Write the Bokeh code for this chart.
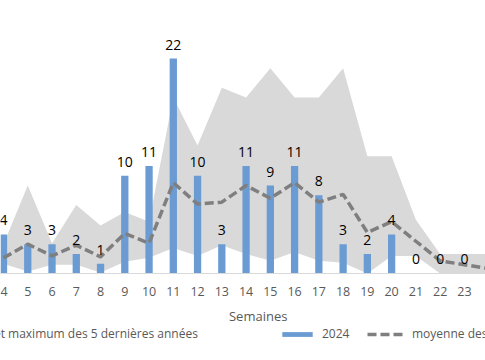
from bokeh.plotting import figure
from bokeh.models import (Range1d, FixedTicker, Legend, LegendItem, Label,
                          LabelSet, ColumnDataSource)
from bokeh.core.properties import value
from bokeh.embed import file_html
from bokeh.resources import INLINE

# ---- data ----
weeks = list(range(4, 24))
cases_2024 = [4, 3, 3, 2, 1, 10, 11, 22, 10, 3, 11, 9, 11, 8, 3, 2, 4, 0, 0, 0]

hist_weeks = list(range(4, 25))
max_5y = [3, 9, 3.1, 7, 4.9, 6.3, 5.3, 18, 13.1, 19, 18, 21, 18, 18, 21, 12, 12, 5.5, 2, 2, 2]
min_5y = [1.0, 0.2, 0.9, 0.9, 0.1, 1.2, 1.6, 2.6, 1.8, 2.9, 2.0, 1.3, 2.2, 1.3, 1.1, 0, 1.8, 1.8, 0, 0, 0]
mean_5y = [1.6, 3.0, 1.8, 2.9, 1.7, 4.1, 3.1, 9.3, 7.1, 7.3, 9.0, 7.7, 9.3, 7.3, 8.1, 4.2, 5.3, 3.3, 1.3, 0.9, 0.5]

tick_weeks = list(range(4, 25))

label_band = "Minimum et maximum des 5 dernières années"
label_bars = "2024"
label_mean = "moyenne des 5 dernières années"
axis_title = "Semaines"

FONT = "Open Sans"

p = figure(width=485, height=360, output_backend="svg", toolbar_location=None,
           x_range=Range1d(3.876, 23.87), y_range=Range1d(-8.905, 27.94),
           min_border_left=0, min_border_right=0, min_border_top=0,
           min_border_bottom=0)
p.outline_line_color = None
p.xgrid.visible = False
p.ygrid.visible = False
p.yaxis.visible = False

band = p.varea(x=hist_weeks, y1=min_5y, y2=max_5y, fill_color="#D9D9D9")
bars = p.vbar(x=weeks, top=cases_2024, width=0.3, fill_color="#6A9BD3",
              line_color=None)
mean_line = p.line(hist_weeks, mean_5y, line_color="#7F7F7F", line_width=3.5,
                   line_dash="9 4")

src = ColumnDataSource(dict(x=weeks, y=cases_2024,
                            t=[str(v) for v in cases_2024]))
p.add_layout(LabelSet(x="x", y="y", text="t", source=src, y_offset=9,
                      text_align="center", text_baseline="bottom",
                      text_font_size="14px", text_color="#000000",
                      text_font=value(FONT)))

ax = p.xaxis[0]
ax.fixed_location = 0
ax.ticker = FixedTicker(ticks=tick_weeks)
ax.major_tick_line_color = None
ax.minor_tick_line_color = None
ax.axis_line_color = "#D9D9D9"
ax.axis_line_width = 1
ax.major_label_text_font_size = "12.5px"
ax.major_label_text_color = "#595959"
ax.major_label_text_font = FONT
ax.major_label_standoff = 8

p.add_layout(Label(x=14.50, y=-4.30, text=axis_title, text_align="center",
                   text_baseline="middle", text_font_size="13px",
                   text_color="#595959", text_font=FONT))


def mk_legend(lbl, r, loc, gw, gh, standoff):
    lg = Legend(items=[LegendItem(label=lbl, renderers=[r])], location=loc,
                orientation="horizontal", glyph_width=gw, glyph_height=gh,
                label_standoff=standoff, label_height=16, padding=0, margin=0,
                spacing=0, border_line_color=None, background_fill_alpha=0,
                label_text_font_size="12px", label_text_color="#595959",
                label_text_font=FONT)
    p.add_layout(lg, "center")


mk_legend(label_band, band, (-107, 18), 38, 6, 6)
mk_legend(label_bars, bars, (278, 18), 38, 6, 6)
mk_legend(label_mean, mean_line, (367, 18), 37, 16, 8)

open("out.html", "w").write(file_html(p, INLINE))
